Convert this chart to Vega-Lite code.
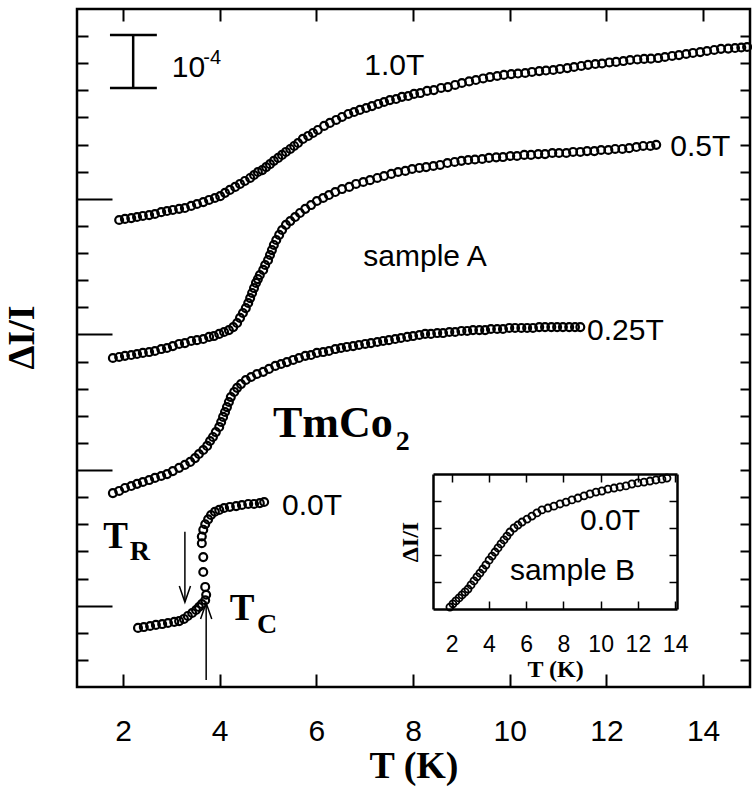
{
"$schema": "https://vega.github.io/schema/vega-lite/v6.json",
"width": 673, "height": 678,
"autosize": {"type": "none"},
"padding": {"left": 77, "top": 9, "right": 2, "bottom": 100},
"background": "white",
"config": {"view": {"stroke": "black", "strokeWidth": 2.5}, "axis": {"grid": false, "tickColor": "black", "domainColor": "black", "labelColor": "black", "titleColor": "black"}},
"datasets": {
"sampleA": [
{"curve":"1.0T","T":1.92,"dI":17.22},{"curve":"1.0T","T":2.04,"dI":17.26},{"curve":"1.0T","T":2.17,"dI":17.29},{"curve":"1.0T","T":2.29,"dI":17.33},{"curve":"1.0T","T":2.41,"dI":17.37},{"curve":"1.0T","T":2.54,"dI":17.40},{"curve":"1.0T","T":2.66,"dI":17.44},{"curve":"1.0T","T":2.79,"dI":17.51},{"curve":"1.0T","T":2.91,"dI":17.55},{"curve":"1.0T","T":3.03,"dI":17.59},{"curve":"1.0T","T":3.16,"dI":17.63},{"curve":"1.0T","T":3.28,"dI":17.66},{"curve":"1.0T","T":3.41,"dI":17.74},{"curve":"1.0T","T":3.53,"dI":17.81},{"curve":"1.0T","T":3.66,"dI":17.88},{"curve":"1.0T","T":3.78,"dI":17.96},{"curve":"1.0T","T":3.90,"dI":18.03},{"curve":"1.0T","T":4.01,"dI":18.10},{"curve":"1.0T","T":4.11,"dI":18.22},{"curve":"1.0T","T":4.21,"dI":18.33},{"curve":"1.0T","T":4.32,"dI":18.44},{"curve":"1.0T","T":4.42,"dI":18.55},{"curve":"1.0T","T":4.52,"dI":18.66},{"curve":"1.0T","T":4.63,"dI":18.77},{"curve":"1.0T","T":4.71,"dI":18.88},{"curve":"1.0T","T":4.79,"dI":18.99},{"curve":"1.0T","T":4.88,"dI":19.06},{"curve":"1.0T","T":4.96,"dI":19.17},{"curve":"1.0T","T":5.04,"dI":19.28},{"curve":"1.0T","T":5.12,"dI":19.40},{"curve":"1.0T","T":5.21,"dI":19.51},{"curve":"1.0T","T":5.29,"dI":19.62},{"curve":"1.0T","T":5.37,"dI":19.73},{"curve":"1.0T","T":5.46,"dI":19.84},{"curve":"1.0T","T":5.54,"dI":19.95},{"curve":"1.0T","T":5.62,"dI":20.06},{"curve":"1.0T","T":5.72,"dI":20.21},{"curve":"1.0T","T":5.83,"dI":20.32},{"curve":"1.0T","T":5.93,"dI":20.43},{"curve":"1.0T","T":6.03,"dI":20.54},{"curve":"1.0T","T":6.16,"dI":20.69},{"curve":"1.0T","T":6.28,"dI":20.80},{"curve":"1.0T","T":6.41,"dI":20.91},{"curve":"1.0T","T":6.53,"dI":21.02},{"curve":"1.0T","T":6.66,"dI":21.13},{"curve":"1.0T","T":6.78,"dI":21.20},{"curve":"1.0T","T":6.90,"dI":21.28},{"curve":"1.0T","T":7.03,"dI":21.35},{"curve":"1.0T","T":7.15,"dI":21.42},{"curve":"1.0T","T":7.28,"dI":21.50},{"curve":"1.0T","T":7.40,"dI":21.57},{"curve":"1.0T","T":7.52,"dI":21.64},{"curve":"1.0T","T":7.65,"dI":21.68},{"curve":"1.0T","T":7.77,"dI":21.76},{"curve":"1.0T","T":7.90,"dI":21.79},{"curve":"1.0T","T":8.02,"dI":21.87},{"curve":"1.0T","T":8.15,"dI":21.90},{"curve":"1.0T","T":8.29,"dI":21.98},{"curve":"1.0T","T":8.43,"dI":22.01},{"curve":"1.0T","T":8.58,"dI":22.09},{"curve":"1.0T","T":8.72,"dI":22.12},{"curve":"1.0T","T":8.87,"dI":22.20},{"curve":"1.0T","T":9.01,"dI":22.27},{"curve":"1.0T","T":9.16,"dI":22.33},{"curve":"1.0T","T":9.30,"dI":22.38},{"curve":"1.0T","T":9.45,"dI":22.44},{"curve":"1.0T","T":9.59,"dI":22.49},{"curve":"1.0T","T":9.74,"dI":22.53},{"curve":"1.0T","T":9.88,"dI":22.57},{"curve":"1.0T","T":10.03,"dI":22.60},{"curve":"1.0T","T":10.17,"dI":22.62},{"curve":"1.0T","T":10.32,"dI":22.64},{"curve":"1.0T","T":10.46,"dI":22.68},{"curve":"1.0T","T":10.61,"dI":22.71},{"curve":"1.0T","T":10.75,"dI":22.73},{"curve":"1.0T","T":10.90,"dI":22.75},{"curve":"1.0T","T":11.04,"dI":22.79},{"curve":"1.0T","T":11.19,"dI":22.82},{"curve":"1.0T","T":11.33,"dI":22.86},{"curve":"1.0T","T":11.48,"dI":22.90},{"curve":"1.0T","T":11.62,"dI":22.94},{"curve":"1.0T","T":11.77,"dI":22.97},{"curve":"1.0T","T":11.91,"dI":22.99},{"curve":"1.0T","T":12.06,"dI":23.03},{"curve":"1.0T","T":12.20,"dI":23.05},{"curve":"1.0T","T":12.35,"dI":23.08},{"curve":"1.0T","T":12.49,"dI":23.12},{"curve":"1.0T","T":12.64,"dI":23.14},{"curve":"1.0T","T":12.78,"dI":23.16},{"curve":"1.0T","T":12.92,"dI":23.17},{"curve":"1.0T","T":13.07,"dI":23.19},{"curve":"1.0T","T":13.21,"dI":23.23},{"curve":"1.0T","T":13.36,"dI":23.27},{"curve":"1.0T","T":13.50,"dI":23.30},{"curve":"1.0T","T":13.65,"dI":23.34},{"curve":"1.0T","T":13.79,"dI":23.38},{"curve":"1.0T","T":13.94,"dI":23.41},{"curve":"1.0T","T":14.08,"dI":23.45},{"curve":"1.0T","T":14.23,"dI":23.49},{"curve":"1.0T","T":14.37,"dI":23.53},{"curve":"1.0T","T":14.52,"dI":23.54},{"curve":"1.0T","T":14.66,"dI":23.56},{"curve":"1.0T","T":14.79,"dI":23.58},{"curve":"1.0T","T":14.91,"dI":23.60},
{"curve":"0.5T","T":1.79,"dI":12.13},{"curve":"0.5T","T":1.92,"dI":12.17},{"curve":"0.5T","T":2.04,"dI":12.21},{"curve":"0.5T","T":2.17,"dI":12.24},{"curve":"0.5T","T":2.29,"dI":12.28},{"curve":"0.5T","T":2.41,"dI":12.32},{"curve":"0.5T","T":2.54,"dI":12.35},{"curve":"0.5T","T":2.66,"dI":12.39},{"curve":"0.5T","T":2.79,"dI":12.46},{"curve":"0.5T","T":2.91,"dI":12.50},{"curve":"0.5T","T":3.03,"dI":12.57},{"curve":"0.5T","T":3.16,"dI":12.65},{"curve":"0.5T","T":3.28,"dI":12.68},{"curve":"0.5T","T":3.41,"dI":12.76},{"curve":"0.5T","T":3.53,"dI":12.79},{"curve":"0.5T","T":3.66,"dI":12.83},{"curve":"0.5T","T":3.78,"dI":12.91},{"curve":"0.5T","T":3.88,"dI":12.94},{"curve":"0.5T","T":3.99,"dI":13.02},{"curve":"0.5T","T":4.09,"dI":13.09},{"curve":"0.5T","T":4.19,"dI":13.16},{"curve":"0.5T","T":4.28,"dI":13.27},{"curve":"0.5T","T":4.36,"dI":13.42},{"curve":"0.5T","T":4.42,"dI":13.61},{"curve":"0.5T","T":4.48,"dI":13.79},{"curve":"0.5T","T":4.54,"dI":13.97},{"curve":"0.5T","T":4.59,"dI":14.16},{"curve":"0.5T","T":4.63,"dI":14.34},{"curve":"0.5T","T":4.67,"dI":14.53},{"curve":"0.5T","T":4.71,"dI":14.71},{"curve":"0.5T","T":4.75,"dI":14.90},{"curve":"0.5T","T":4.79,"dI":15.04},{"curve":"0.5T","T":4.83,"dI":15.19},{"curve":"0.5T","T":4.90,"dI":15.38},{"curve":"0.5T","T":4.94,"dI":15.56},{"curve":"0.5T","T":5.00,"dI":15.74},{"curve":"0.5T","T":5.04,"dI":15.93},{"curve":"0.5T","T":5.08,"dI":16.11},{"curve":"0.5T","T":5.12,"dI":16.30},{"curve":"0.5T","T":5.17,"dI":16.48},{"curve":"0.5T","T":5.23,"dI":16.67},{"curve":"0.5T","T":5.29,"dI":16.85},{"curve":"0.5T","T":5.37,"dI":17.04},{"curve":"0.5T","T":5.46,"dI":17.18},{"curve":"0.5T","T":5.56,"dI":17.33},{"curve":"0.5T","T":5.66,"dI":17.48},{"curve":"0.5T","T":5.77,"dI":17.63},{"curve":"0.5T","T":5.89,"dI":17.77},{"curve":"0.5T","T":6.01,"dI":17.92},{"curve":"0.5T","T":6.14,"dI":18.03},{"curve":"0.5T","T":6.26,"dI":18.14},{"curve":"0.5T","T":6.39,"dI":18.25},{"curve":"0.5T","T":6.53,"dI":18.36},{"curve":"0.5T","T":6.68,"dI":18.44},{"curve":"0.5T","T":6.82,"dI":18.55},{"curve":"0.5T","T":6.97,"dI":18.62},{"curve":"0.5T","T":7.11,"dI":18.69},{"curve":"0.5T","T":7.26,"dI":18.77},{"curve":"0.5T","T":7.40,"dI":18.84},{"curve":"0.5T","T":7.55,"dI":18.92},{"curve":"0.5T","T":7.69,"dI":18.99},{"curve":"0.5T","T":7.84,"dI":19.03},{"curve":"0.5T","T":7.98,"dI":19.10},{"curve":"0.5T","T":8.13,"dI":19.14},{"curve":"0.5T","T":8.27,"dI":19.17},{"curve":"0.5T","T":8.42,"dI":19.21},{"curve":"0.5T","T":8.56,"dI":19.25},{"curve":"0.5T","T":8.71,"dI":19.32},{"curve":"0.5T","T":8.86,"dI":19.36},{"curve":"0.5T","T":9.00,"dI":19.40},{"curve":"0.5T","T":9.14,"dI":19.43},{"curve":"0.5T","T":9.28,"dI":19.45},{"curve":"0.5T","T":9.43,"dI":19.47},{"curve":"0.5T","T":9.57,"dI":19.51},{"curve":"0.5T","T":9.72,"dI":19.53},{"curve":"0.5T","T":9.86,"dI":19.54},{"curve":"0.5T","T":10.01,"dI":19.58},{"curve":"0.5T","T":10.15,"dI":19.58},{"curve":"0.5T","T":10.30,"dI":19.62},{"curve":"0.5T","T":10.44,"dI":19.62},{"curve":"0.5T","T":10.59,"dI":19.65},{"curve":"0.5T","T":10.73,"dI":19.65},{"curve":"0.5T","T":10.88,"dI":19.69},{"curve":"0.5T","T":11.02,"dI":19.69},{"curve":"0.5T","T":11.17,"dI":19.69},{"curve":"0.5T","T":11.31,"dI":19.73},{"curve":"0.5T","T":11.46,"dI":19.73},{"curve":"0.5T","T":11.60,"dI":19.76},{"curve":"0.5T","T":11.75,"dI":19.76},{"curve":"0.5T","T":11.89,"dI":19.80},{"curve":"0.5T","T":12.04,"dI":19.80},{"curve":"0.5T","T":12.18,"dI":19.84},{"curve":"0.5T","T":12.33,"dI":19.84},{"curve":"0.5T","T":12.47,"dI":19.87},{"curve":"0.5T","T":12.62,"dI":19.91},{"curve":"0.5T","T":12.76,"dI":19.95},{"curve":"0.5T","T":12.91,"dI":19.95},{"curve":"0.5T","T":13.03,"dI":19.99},
{"curve":"0.25T","T":1.79,"dI":7.15},{"curve":"0.25T","T":1.92,"dI":7.23},{"curve":"0.25T","T":2.04,"dI":7.34},{"curve":"0.25T","T":2.17,"dI":7.41},{"curve":"0.25T","T":2.29,"dI":7.49},{"curve":"0.25T","T":2.41,"dI":7.56},{"curve":"0.25T","T":2.54,"dI":7.63},{"curve":"0.25T","T":2.66,"dI":7.71},{"curve":"0.25T","T":2.79,"dI":7.78},{"curve":"0.25T","T":2.91,"dI":7.85},{"curve":"0.25T","T":3.03,"dI":7.96},{"curve":"0.25T","T":3.16,"dI":8.08},{"curve":"0.25T","T":3.28,"dI":8.19},{"curve":"0.25T","T":3.39,"dI":8.30},{"curve":"0.25T","T":3.49,"dI":8.44},{"curve":"0.25T","T":3.57,"dI":8.59},{"curve":"0.25T","T":3.66,"dI":8.74},{"curve":"0.25T","T":3.74,"dI":8.89},{"curve":"0.25T","T":3.80,"dI":9.07},{"curve":"0.25T","T":3.86,"dI":9.22},{"curve":"0.25T","T":3.92,"dI":9.40},{"curve":"0.25T","T":3.99,"dI":9.59},{"curve":"0.25T","T":4.03,"dI":9.77},{"curve":"0.25T","T":4.07,"dI":9.96},{"curve":"0.25T","T":4.11,"dI":10.14},{"curve":"0.25T","T":4.15,"dI":10.32},{"curve":"0.25T","T":4.19,"dI":10.51},{"curve":"0.25T","T":4.23,"dI":10.69},{"curve":"0.25T","T":4.30,"dI":10.88},{"curve":"0.25T","T":4.36,"dI":11.03},{"curve":"0.25T","T":4.44,"dI":11.17},{"curve":"0.25T","T":4.54,"dI":11.32},{"curve":"0.25T","T":4.65,"dI":11.43},{"curve":"0.25T","T":4.77,"dI":11.54},{"curve":"0.25T","T":4.90,"dI":11.62},{"curve":"0.25T","T":5.02,"dI":11.73},{"curve":"0.25T","T":5.15,"dI":11.84},{"curve":"0.25T","T":5.27,"dI":11.91},{"curve":"0.25T","T":5.39,"dI":11.98},{"curve":"0.25T","T":5.52,"dI":12.06},{"curve":"0.25T","T":5.64,"dI":12.13},{"curve":"0.25T","T":5.77,"dI":12.21},{"curve":"0.25T","T":5.89,"dI":12.24},{"curve":"0.25T","T":6.01,"dI":12.32},{"curve":"0.25T","T":6.14,"dI":12.35},{"curve":"0.25T","T":6.26,"dI":12.39},{"curve":"0.25T","T":6.39,"dI":12.46},{"curve":"0.25T","T":6.51,"dI":12.50},{"curve":"0.25T","T":6.63,"dI":12.54},{"curve":"0.25T","T":6.76,"dI":12.57},{"curve":"0.25T","T":6.88,"dI":12.61},{"curve":"0.25T","T":7.01,"dI":12.65},{"curve":"0.25T","T":7.13,"dI":12.68},{"curve":"0.25T","T":7.26,"dI":12.72},{"curve":"0.25T","T":7.38,"dI":12.76},{"curve":"0.25T","T":7.50,"dI":12.79},{"curve":"0.25T","T":7.63,"dI":12.83},{"curve":"0.25T","T":7.75,"dI":12.87},{"curve":"0.25T","T":7.88,"dI":12.91},{"curve":"0.25T","T":8.00,"dI":12.94},{"curve":"0.25T","T":8.13,"dI":12.98},{"curve":"0.25T","T":8.25,"dI":13.02},{"curve":"0.25T","T":8.37,"dI":13.02},{"curve":"0.25T","T":8.50,"dI":13.05},{"curve":"0.25T","T":8.62,"dI":13.05},{"curve":"0.25T","T":8.75,"dI":13.09},{"curve":"0.25T","T":8.87,"dI":13.09},{"curve":"0.25T","T":9.00,"dI":13.13},{"curve":"0.25T","T":9.12,"dI":13.13},{"curve":"0.25T","T":9.24,"dI":13.16},{"curve":"0.25T","T":9.37,"dI":13.16},{"curve":"0.25T","T":9.49,"dI":13.16},{"curve":"0.25T","T":9.61,"dI":13.20},{"curve":"0.25T","T":9.74,"dI":13.20},{"curve":"0.25T","T":9.86,"dI":13.20},{"curve":"0.25T","T":9.99,"dI":13.24},{"curve":"0.25T","T":10.11,"dI":13.24},{"curve":"0.25T","T":10.24,"dI":13.24},{"curve":"0.25T","T":10.36,"dI":13.24},{"curve":"0.25T","T":10.48,"dI":13.24},{"curve":"0.25T","T":10.61,"dI":13.27},{"curve":"0.25T","T":10.73,"dI":13.27},{"curve":"0.25T","T":10.86,"dI":13.27},{"curve":"0.25T","T":10.98,"dI":13.27},{"curve":"0.25T","T":11.10,"dI":13.27},{"curve":"0.25T","T":11.23,"dI":13.27},{"curve":"0.25T","T":11.35,"dI":13.27},{"curve":"0.25T","T":11.46,"dI":13.27},
{"curve":"0.0T","T":2.31,"dI":2.18},{"curve":"0.0T","T":2.43,"dI":2.21},{"curve":"0.0T","T":2.56,"dI":2.25},{"curve":"0.0T","T":2.68,"dI":2.29},{"curve":"0.0T","T":2.81,"dI":2.32},{"curve":"0.0T","T":2.93,"dI":2.36},{"curve":"0.0T","T":3.06,"dI":2.40},{"curve":"0.0T","T":3.16,"dI":2.43},{"curve":"0.0T","T":3.26,"dI":2.51},{"curve":"0.0T","T":3.34,"dI":2.62},{"curve":"0.0T","T":3.43,"dI":2.73},{"curve":"0.0T","T":3.51,"dI":2.84},{"curve":"0.0T","T":3.57,"dI":2.95},{"curve":"0.0T","T":3.63,"dI":3.06},{"curve":"0.0T","T":3.70,"dI":3.20},{"curve":"0.0T","T":3.72,"dI":3.40},{"curve":"0.0T","T":3.70,"dI":3.69},{"curve":"0.0T","T":3.66,"dI":4.24},{"curve":"0.0T","T":3.66,"dI":4.79},{"curve":"0.0T","T":3.63,"dI":5.30},{"curve":"0.0T","T":3.63,"dI":5.55},{"curve":"0.0T","T":3.66,"dI":5.80},{"curve":"0.0T","T":3.70,"dI":6.00},{"curve":"0.0T","T":3.76,"dI":6.18},{"curve":"0.0T","T":3.82,"dI":6.34},{"curve":"0.0T","T":3.90,"dI":6.46},{"curve":"0.0T","T":3.99,"dI":6.53},{"curve":"0.0T","T":4.09,"dI":6.60},{"curve":"0.0T","T":4.21,"dI":6.64},{"curve":"0.0T","T":4.34,"dI":6.67},{"curve":"0.0T","T":4.46,"dI":6.71},{"curve":"0.0T","T":4.59,"dI":6.75},{"curve":"0.0T","T":4.71,"dI":6.75},{"curve":"0.0T","T":4.83,"dI":6.78},{"curve":"0.0T","T":4.92,"dI":6.82}
],
"sampleB": [
{"T":1.91,"dI":0.07},{"T":2.07,"dI":0.19},{"T":2.23,"dI":0.30},{"T":2.40,"dI":0.41},{"T":2.56,"dI":0.52},{"T":2.72,"dI":0.63},{"T":2.88,"dI":0.74},{"T":3.04,"dI":0.89},{"T":3.20,"dI":1.04},{"T":3.36,"dI":1.19},{"T":3.52,"dI":1.33},{"T":3.68,"dI":1.48},{"T":3.84,"dI":1.63},{"T":4.01,"dI":1.81},{"T":4.17,"dI":1.96},{"T":4.33,"dI":2.11},{"T":4.49,"dI":2.26},{"T":4.65,"dI":2.41},{"T":4.81,"dI":2.56},{"T":4.97,"dI":2.70},{"T":5.13,"dI":2.85},{"T":5.35,"dI":3.00},{"T":5.56,"dI":3.11},{"T":5.78,"dI":3.22},{"T":6.05,"dI":3.33},{"T":6.31,"dI":3.44},{"T":6.58,"dI":3.56},{"T":6.85,"dI":3.67},{"T":7.17,"dI":3.74},{"T":7.49,"dI":3.81},{"T":7.82,"dI":3.89},{"T":8.14,"dI":3.96},{"T":8.46,"dI":4.04},{"T":8.78,"dI":4.11},{"T":9.11,"dI":4.19},{"T":9.43,"dI":4.26},{"T":9.75,"dI":4.33},{"T":10.07,"dI":4.37},{"T":10.39,"dI":4.44},{"T":10.72,"dI":4.48},{"T":11.04,"dI":4.52},{"T":11.36,"dI":4.56},{"T":11.68,"dI":4.63},{"T":12.00,"dI":4.67},{"T":12.33,"dI":4.70},{"T":12.65,"dI":4.74},{"T":12.97,"dI":4.78},{"T":13.29,"dI":4.81},{"T":13.56,"dI":4.85}
]
},
"resolve": {"scale": {"x": "independent", "y": "independent"}, "axis": {"x": "independent", "y": "independent"}},
"layer": [
{
"encoding": {
"x": {"field": "T", "type": "quantitative", "scale": {"domain": [1.048, 14.97], "nice": false, "zero": false}, "axis": null},
"y": {"field": "dI", "type": "quantitative", "scale": {"domain": [0, 25], "nice": false, "zero": false}, "axis": null}
},
"resolve": {"axis": {"x": "independent", "y": "independent"}},
"layer": [
{"data": {"name": "sampleA"},
"mark": {"type": "point", "filled": false, "color": "black", "opacity": 1, "strokeWidth": 2.2, "size": 62},
"encoding": {
"x": {"field": "T", "type": "quantitative", "scale": {"domain": [1.048, 14.97], "nice": false, "zero": false},
"axis": {"orient": "bottom", "values": [2, 4, 6, 8, 10, 12, 14], "domain": false, "tickSize": -13, "tickWidth": 2, "labelFont": "Liberation Sans", "labelFontSize": 30, "labelPadding": 42, "title": "T (K)", "titleFont": "Liberation Serif", "titleFontSize": 38, "titleFontWeight": "bold", "titlePadding": 1}},
"y": {"field": "dI", "type": "quantitative", "scale": {"domain": [0, 25], "nice": false, "zero": false},
"axis": {"orient": "left", "values": [1,2,3,4,5,6,7,8,9,10,11,12,13,14,15,16,17,18,19,20,21,22,23,24], "domain": false, "labels": false, "tickWidth": 2, "tickSize": {"condition": {"test": "datum.value % 5 == 3 && datum.value < 20", "value": -35}, "value": -11}, "title": "ΔI/I", "titleFont": "Liberation Serif", "titleFontSize": 38, "titleFontWeight": "bold", "titlePadding": 35, "titleY": 328}}
}},
{"data": {"name": "sampleA"},
"mark": {"type": "point", "opacity": 0},
"encoding": {
"x": {"field": "T", "type": "quantitative", "scale": {"domain": [1.048, 14.97], "nice": false, "zero": false},
"axis": {"orient": "top", "values": [2, 4, 6, 8, 10, 12, 14], "domain": false, "labels": false, "tickSize": -12, "tickWidth": 2, "title": null}},
"y": {"field": "dI", "type": "quantitative", "scale": {"domain": [0, 25], "nice": false, "zero": false},
"axis": {"orient": "right", "values": [1,2,3,4,5,6,7,8,9,10,11,12,13,14,15,16,17,18,19,20,21,22,23,24], "domain": false, "labels": false, "tickSize": -10, "tickWidth": 2, "title": null}}
}},
{"data": {"values": [
{"label": "10", "T": 3.01, "dI": 22.49},
{"label": "1.0T", "T": 6.99, "dI": 22.57},
{"label": "0.5T", "T": 13.32, "dI": 19.58},
{"label": "sample A", "T": 6.97, "dI": 15.52},
{"label": "0.25T", "T": 11.60, "dI": 12.79},
{"label": "0.0T", "T": 5.29, "dI": 6.34}
]},
"mark": {"type": "text", "font": "Liberation Sans", "fontSize": 30, "align": "left", "baseline": "alphabetic", "color": "black"},
"encoding": {"text": {"field": "label"}}},
{"data": {"values": [{"label": "-4", "T": 3.66, "dI": 22.97}]},
"mark": {"type": "text", "font": "Liberation Sans", "fontSize": 20, "align": "left", "baseline": "alphabetic", "color": "black"},
"encoding": {"text": {"field": "label"}}},
{"data": {"values": [{"label": "TmCo", "T": 5.10, "dI": 9.22}]},
"mark": {"type": "text", "font": "Liberation Serif", "fontWeight": "bold", "fontSize": 44, "align": "left", "baseline": "alphabetic", "color": "black"},
"encoding": {"text": {"field": "label"}}},
{"data": {"values": [{"label": "T", "T": 1.59, "dI": 5.13}, {"label": "T", "T": 4.21, "dI": 2.47}]},
"mark": {"type": "text", "font": "Liberation Serif", "fontWeight": "bold", "fontSize": 37, "align": "left", "baseline": "alphabetic", "color": "black"},
"encoding": {"text": {"field": "label"}}},
{"data": {"values": [{"label": "2", "T": 7.64, "dI": 8.74}, {"label": "R", "T": 2.14, "dI": 4.68}, {"label": "C", "T": 4.77, "dI": 1.99}]},
"mark": {"type": "text", "font": "Liberation Serif", "fontWeight": "bold", "fontSize": 28, "align": "left", "baseline": "alphabetic", "color": "black"},
"encoding": {"text": {"field": "label"}}},
{"data": {"values": [
{"T": 2.21, "T2": 2.21, "dI": 22.09, "dI2": 24.04},
{"T": 1.73, "T2": 2.70, "dI": 24.04, "dI2": 24.04},
{"T": 1.73, "T2": 2.70, "dI": 22.09, "dI2": 22.09}
]},
"mark": {"type": "rule", "color": "black", "strokeWidth": 2.5},
"encoding": {"x2": {"field": "T2"}, "y2": {"field": "dI2"}}},
{"data": {"values": [
{"T": 3.28, "T2": 3.28, "dI": 5.72, "dI2": 3.13},
{"T": 3.72, "T2": 3.72, "dI": 0.26, "dI2": 3.10}
]},
"mark": {"type": "rule", "color": "black", "strokeWidth": 1.5},
"encoding": {"x2": {"field": "T2"}, "y2": {"field": "dI2"}}},
{"data": {"values": [{"T": 3.28, "dI": 3.13}]},
"mark": {"type": "point", "shape": "M-0.35,-1L0,0L0.35,-1", "filled": false, "color": "black", "opacity": 1, "strokeWidth": 1.5, "size": 1024},
"encoding": {}},
{"data": {"values": [{"T": 3.72, "dI": 3.10}]},
"mark": {"type": "point", "shape": "M-0.35,1L0,0L0.35,1", "filled": false, "color": "black", "opacity": 1, "strokeWidth": 1.5, "size": 1024},
"encoding": {}}
]
},
{
"encoding": {
"x": {"field": "T", "type": "quantitative", "scale": {"domain": [1, 14.1], "range": [356, 600], "nice": false, "zero": false}, "axis": null},
"y": {"field": "dI", "type": "quantitative", "scale": {"domain": [0, 5], "range": [600, 465], "nice": false, "zero": false}, "axis": null}
},
"resolve": {"axis": {"x": "independent", "y": "independent"}},
"layer": [
{"data": {"name": "sampleB"},
"mark": {"type": "point", "filled": false, "color": "black", "opacity": 1, "strokeWidth": 1.8, "size": 50},
"encoding": {
"x": {"field": "T", "type": "quantitative", "scale": {"domain": [1, 14.1], "range": [356, 600], "nice": false, "zero": false},
"axis": {"orient": "bottom", "offset": -78, "values": [2, 4, 6, 8, 10, 12, 14], "domain": true, "domainWidth": 2.5, "tickSize": -8, "tickWidth": 1.5, "labelFont": "Liberation Sans", "labelFontSize": 23, "labelPadding": 32, "title": "T (K)", "titleFont": "Liberation Serif", "titleFontSize": 24, "titleFontWeight": "bold", "titlePadding": 1}},
"y": {"field": "dI", "type": "quantitative", "scale": {"domain": [0, 5], "range": [600, 465], "nice": false, "zero": false},
"axis": {"orient": "left", "offset": -356, "values": [1, 2, 3, 4], "domain": true, "domainWidth": 2.5, "labels": false, "tickSize": -8, "tickWidth": 1.5, "title": "ΔI/I", "titleFont": "Liberation Serif", "titleFontSize": 24, "titleFontWeight": "bold", "titlePadding": 10}}
}},
{"data": {"name": "sampleB"},
"mark": {"type": "point", "opacity": 0},
"encoding": {
"x": {"field": "T", "type": "quantitative", "scale": {"domain": [1, 14.1], "range": [356, 600], "nice": false, "zero": false},
"axis": {"orient": "top", "offset": -465, "values": [2, 4, 6, 8, 10, 12, 14], "domain": true, "domainWidth": 2.5, "labels": false, "tickSize": -8, "tickWidth": 1.5, "title": null}},
"y": {"field": "dI", "type": "quantitative", "scale": {"domain": [0, 5], "range": [600, 465], "nice": false, "zero": false},
"axis": {"orient": "right", "offset": -73, "values": [1, 2, 3, 4], "domain": true, "domainWidth": 2.5, "labels": false, "tickSize": -8, "tickWidth": 1.5, "title": null}}
}},
{"data": {"values": [{"label": "0.0T", "T": 8.89, "dI": 2.93}, {"label": "sample B", "T": 5.13, "dI": 1.07}]},
"mark": {"type": "text", "font": "Liberation Sans", "fontSize": 30, "align": "left", "baseline": "alphabetic", "color": "black"},
"encoding": {"text": {"field": "label"}}}
]
}
]
}
